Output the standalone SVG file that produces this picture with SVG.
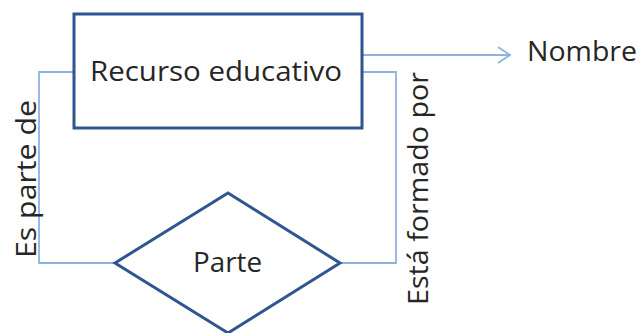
<svg xmlns="http://www.w3.org/2000/svg" width="641" height="333" viewBox="0 0 641 333">
<style>
.node{fill:#ffffff;stroke:#2F5690;stroke-width:3;stroke-linejoin:miter}
.conn{fill:none;stroke:#8DB2E0;stroke-width:1.8}
.lbl{font-family:"Open Sans","Liberation Sans",sans-serif;font-size:27px;fill:#262626}
</style>
<defs>
<marker id="arr" viewBox="0 0 14 18" refX="13" refY="9" markerWidth="14" markerHeight="18" markerUnits="userSpaceOnUse" orient="auto">
<path d="M1,1 L13,9 L1,17" fill="none" stroke="#8DB2E0" stroke-width="1.8"/>
</marker>
</defs>
<g id="connectors">
<path class="conn" d="M73,72 H39 V263 H115"/>
<path class="conn" d="M362,72 H396 V263 H340"/>
<path class="conn" d="M362,55 H510" marker-end="url(#arr)"/>
<text class="lbl" transform="translate(36,258) rotate(-90)" textLength="158" lengthAdjust="spacingAndGlyphs">Es parte de</text>
<text class="lbl" transform="translate(428,305) rotate(-90)" textLength="233" lengthAdjust="spacingAndGlyphs">Está formado por</text>
</g>
<g id="recurso">
<rect class="node" x="74" y="14" width="288" height="114"/>
<text class="lbl" x="90" y="81" textLength="252" lengthAdjust="spacingAndGlyphs">Recurso educativo</text>
</g>
<g id="parte">
<polygon class="node" points="115,263 228,193 340,263 228,333"/>
<text class="lbl" x="193" y="272" textLength="69" lengthAdjust="spacingAndGlyphs">Parte</text>
</g>
<g id="nombre">
<text class="lbl" x="527" y="61" textLength="110" lengthAdjust="spacingAndGlyphs">Nombre</text>
</g>
</svg>
